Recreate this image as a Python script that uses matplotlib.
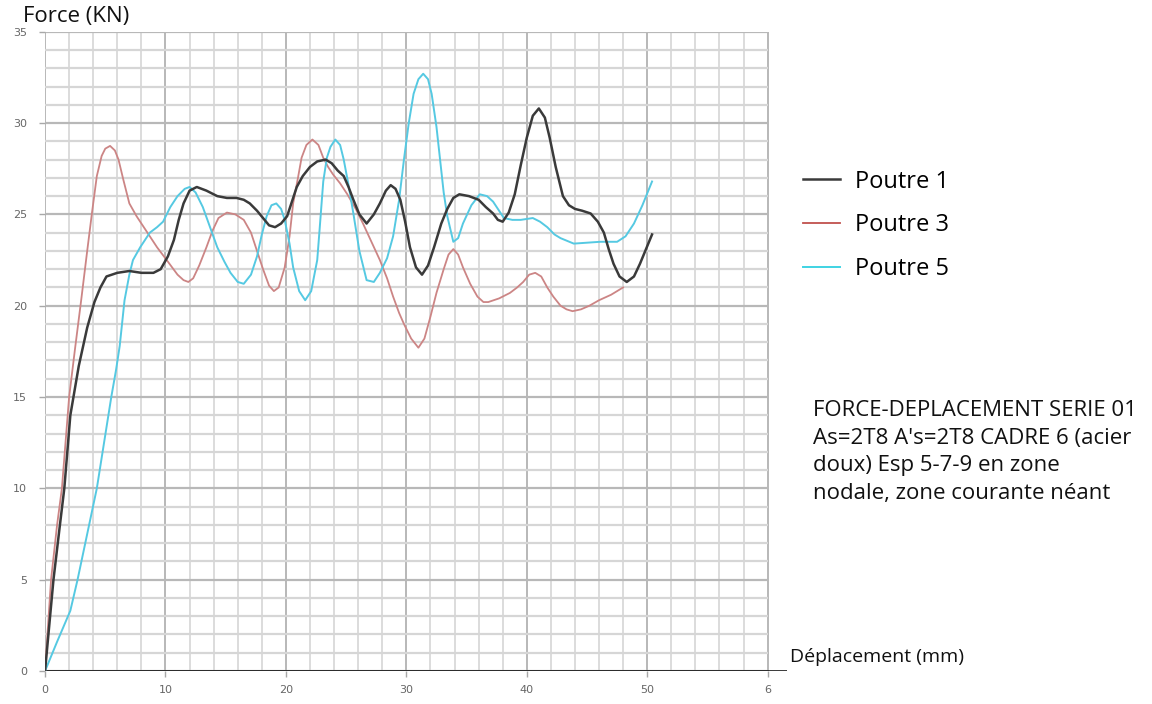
import matplotlib
matplotlib.use("Agg")
import matplotlib.pyplot as plt

# Force-displacement curves for three beams (mm, kN)
poutre1_x = [0, 0.7, 1.2, 1.6, 2.1, 2.8, 3.5, 4.1, 4.6, 5.1, 6.0, 7.0, 8.0, 9.0, 9.6,
             10.2, 10.7, 11.1, 11.5, 12.0, 12.6, 13.4, 14.3, 15.1, 15.9, 16.5, 17.0,
             17.6, 18.1, 18.6, 19.1, 19.6, 20.1, 20.5, 20.9, 21.4, 22.0, 22.6, 23.3,
             23.8, 24.3, 24.8, 25.2, 25.6, 26.1, 26.7, 27.3, 27.8, 28.3, 28.7, 29.1,
             29.5, 29.9, 30.3, 30.8, 31.3, 31.8, 32.3, 32.9, 33.4, 33.9, 34.4, 35.2,
             36.0, 36.6, 37.2, 37.6, 38.0, 38.5, 39.0, 39.5, 40.0, 40.5, 41.0, 41.5,
             41.9, 42.4, 43.0, 43.5, 44.0, 44.6, 45.3, 45.9, 46.4, 46.8, 47.2, 47.7,
             48.3, 48.9, 49.4, 49.9, 50.4]
poutre1_y = [0, 5, 7.8, 10, 14, 16.7, 18.8, 20.2, 21.0, 21.6, 21.8, 21.9, 21.8, 21.8, 22.0,
             22.7, 23.6, 24.7, 25.6, 26.3, 26.5, 26.3, 26.0, 25.9, 25.9, 25.8, 25.6,
             25.2, 24.8, 24.4, 24.3, 24.5, 24.9, 25.7, 26.5, 27.1, 27.6, 27.9, 28.0,
             27.8, 27.4, 27.1, 26.5, 25.8, 25.0, 24.5, 25.0, 25.6, 26.3, 26.6, 26.4,
             25.8, 24.6, 23.2, 22.1, 21.7, 22.2, 23.2, 24.5, 25.3, 25.9, 26.1, 26.0,
             25.8, 25.4, 25.05, 24.7, 24.6, 25.1, 26.1, 27.7, 29.2, 30.4, 30.8, 30.3,
             29.2, 27.6, 26.0, 25.5, 25.3, 25.2, 25.05, 24.6, 24.0, 23.1, 22.3, 21.6,
             21.3, 21.6, 22.3, 23.1, 23.9]

poutre3_x = [0, 0.5, 1.0, 1.4, 2.0, 2.5, 3.0, 3.5, 3.9, 4.3, 4.7, 5.0, 5.4, 5.8, 6.1,
             6.5, 7.0, 7.6, 8.2, 8.7, 9.3, 10.1, 11.0, 11.5, 11.9, 12.3, 12.8, 13.4,
             13.9, 14.4, 15.1, 15.8, 16.5, 17.1, 17.6, 18.1, 18.6, 19.0, 19.4, 19.9,
             20.3, 20.6, 21.0, 21.3, 21.7, 22.2, 22.7, 23.1, 23.5, 23.9, 24.5, 25.1,
             25.8, 26.4, 27.1, 27.8, 28.4, 28.9, 29.4, 29.8, 30.4, 31.0, 31.5, 32.0,
             32.5, 33.1, 33.5, 33.9, 34.3, 34.7, 35.3, 35.9, 36.4, 36.8, 37.7, 38.6,
             39.2, 39.7, 40.2, 40.7, 41.2, 41.7, 42.2, 42.8, 43.3, 43.8, 44.5, 45.2,
             46.0, 47.0, 48.0]
poutre3_y = [0, 5, 8, 10, 15, 17.7, 20.3, 23.0, 25.1, 27.1, 28.2, 28.6, 28.75, 28.5, 28.0,
             26.9, 25.6, 24.9, 24.3, 23.8, 23.2, 22.5, 21.7, 21.4, 21.3, 21.5, 22.2, 23.2,
             24.1, 24.8, 25.1, 25.0, 24.7, 24.0, 23.0, 22.0, 21.1, 20.8, 21.0, 22.1,
             23.8, 25.6, 27.0, 28.1, 28.8, 29.1, 28.8, 28.1, 27.6, 27.2, 26.7, 26.1,
             25.3, 24.5, 23.5, 22.5, 21.5, 20.5, 19.6, 19.0, 18.2, 17.7, 18.2, 19.4,
             20.7, 22.0, 22.8, 23.1, 22.8, 22.1, 21.2, 20.5, 20.2, 20.2, 20.4, 20.7,
             21.0, 21.3, 21.7, 21.8, 21.6, 21.0, 20.5, 20.0, 19.8, 19.7, 19.8, 20.0,
             20.3, 20.6, 21.0]

poutre5_x = [0, 1.0, 2.1, 2.7, 3.5, 4.3, 4.9, 5.5, 5.9, 6.2, 6.6, 7.0, 7.3, 7.9, 8.7,
             9.3, 9.8, 10.4, 11.0, 11.6, 12.0, 12.5, 13.1, 13.7, 14.3, 14.9, 15.4, 16.0,
             16.5, 17.1, 17.6, 18.0, 18.4, 18.8, 19.2, 19.6, 19.9, 20.3, 20.6, 21.1,
             21.6, 22.1, 22.6, 22.8, 23.1, 23.4, 23.7, 24.1, 24.5, 24.8, 25.2, 25.6,
             26.1, 26.7, 27.3, 27.8, 28.4, 28.9, 29.4, 29.8, 30.2, 30.6, 31.0, 31.4,
             31.8, 32.1, 32.5, 32.8, 33.1, 33.4, 33.9, 34.3, 34.7, 35.4, 36.1, 36.7,
             37.2, 37.7, 38.1, 38.8, 39.5, 40.5, 41.1, 41.7, 42.3, 42.8, 43.9, 45.0,
             46.1, 47.0, 47.5, 48.2, 48.9, 49.6, 50.4]
poutre5_y = [0, 1.6, 3.3, 5, 7.5, 10, 12.5, 15, 16.5, 17.8, 20.3, 21.7, 22.5, 23.2, 24.0,
             24.3, 24.6, 25.4, 26.0, 26.4, 26.5, 26.2, 25.4, 24.3, 23.2, 22.4, 21.8, 21.3,
             21.2, 21.7, 22.7, 23.9, 24.9, 25.5, 25.6, 25.3, 24.7, 23.4, 22.1, 20.8,
             20.3, 20.8, 22.5, 24.2, 26.8, 28.1, 28.7, 29.1, 28.8, 28.0, 26.6, 25.05,
             23.0, 21.4, 21.3, 21.8, 22.6, 23.8, 25.8, 28.0, 30.0, 31.6, 32.4, 32.7,
             32.4, 31.6, 29.8, 28.0, 26.2, 24.9, 23.5, 23.7, 24.5, 25.5, 26.1, 26.0,
             25.7, 25.2, 24.8, 24.7, 24.7, 24.8, 24.6, 24.3, 23.9, 23.7, 23.4, 23.45,
             23.5, 23.5, 23.5, 23.8, 24.5, 25.5, 26.8]

series_labels = ["Poutre 1", "Poutre 3", "Poutre 5"]
x_tick_values = [0, 10, 20, 30, 40, 50, 60]
x_tick_labels = ["0", "10", "20", "30", "40", "50", "6"]
y_tick_values = [0, 5, 10, 15, 20, 25, 30, 35]

note = ("FORCE-DEPLACEMENT SERIE 01\n"
        "As=2T8 A's=2T8 CADRE 6 (acier\n"
        "doux) Esp 5-7-9 en zone\n"
        "nodale, zone courante néant")

fig = plt.figure(figsize=(11.52, 7.04), dpi=100)
ax = fig.add_axes([0.0391, 0.0469, 0.644, 0.908])
ax.set_xlim(0, 61.6)
ax.set_ylim(0, 35)
for s in ax.spines.values():
    s.set_visible(False)

# Graph-paper style grid, stopping at x = 60
for gx in range(0, 61, 2):
    major = gx % 10 == 0
    ax.vlines(gx, 0, 35, color="#a4a4a4" if major else "#d2d2d2",
              lw=1.1, zorder=1)
for gy in range(0, 36):
    major = gy % 5 == 0
    ax.hlines(gy, 0, 60, color="#b8b8b8" if major else "#d6d6d6",
              lw=1.6, zorder=1)
ax.axhline(0, color="black", lw=1.8, zorder=3)

ax.set_xticks(x_tick_values)
ax.set_xticklabels(x_tick_labels)
ax.set_yticks(y_tick_values)
ax.tick_params(axis="both", colors="#a8a8a8", labelcolor="#666666", labelsize=8,
               length=4, width=1.0)
ax.tick_params(axis="x", pad=6)
ax.tick_params(axis="y", pad=9)

l1, = ax.plot(poutre1_x, poutre1_y, color="#3a3a3a", lw=1.8, zorder=5)
l3, = ax.plot(poutre3_x, poutre3_y, color="#cc8585", lw=1.3, zorder=4)
l5, = ax.plot(poutre5_x, poutre5_y, color="#55c9e2", lw=1.4, zorder=4)

leg = ax.legend([l1, l3, l5], series_labels, loc="center left",
                bbox_to_anchor=(0.697, 0.680), bbox_transform=fig.transFigure,
                frameon=False, handlelength=1.57, handletextpad=0.64,
                labelspacing=0.83, borderpad=0, borderaxespad=0,
                prop={"family": "Open Sans", "size": 17})
leg.get_lines()[1].set_color("#c0504d")
leg.get_lines()[2].set_color("#3fd3e3")

fig.text(0.020, 0.977, "Force (KN)", fontsize=16, family="Open Sans",
         color="#111111", va="center", ha="left")
fig.text(0.686, 0.067, "Déplacement (mm)", fontsize=14, family="Open Sans",
         color="#111111", va="center", ha="left")
fig.text(0.706, 0.358, note, fontsize=16, family="Open Sans", color="#111111",
         va="center", ha="left", linespacing=1.41)

fig.savefig("out.png", dpi=100)
